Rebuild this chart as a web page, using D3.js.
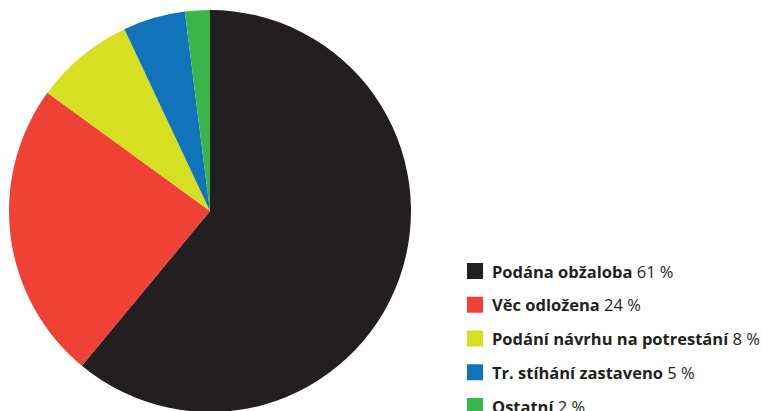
<!DOCTYPE html>
<html>
<head>
<meta charset="utf-8">
<script src="https://cdn.jsdelivr.net/npm/d3@7"></script>
<style>
  html, body { margin: 0; padding: 0; background: #fff; overflow: hidden; }
  svg { display: block; }
  .legend-label { font-family: "Open Sans", "Noto Sans", sans-serif; font-size: 16.5px; fill: #231f20; }
  .legend-label .name { font-weight: 700; }
</style>
</head>
<body>
<svg width="763" height="411"></svg>
<script>
// data
var categories = ["Podána obžaloba", "Věc odložena", "Podání návrhu na potrestání", "Tr. stíhání zastaveno", "Ostatní"];
var values = [61, 24, 8, 5, 2];
var colors = ["#231f20", "#ef4136", "#d7df23", "#1174bb", "#39b54a"];

var svg = d3.select("svg");

var cx = 210, cy = 211, radius = 201;

var data = categories.map(function(c, i) {
    return { name: c, value: values[i], color: colors[i] };
});

var pie = d3.pie()
    .sort(null)
    .value(function(d) { return d.value; });

var arc = d3.arc()
    .innerRadius(0)
    .outerRadius(radius);

var g = svg.append("g")
    .attr("transform", "translate(" + cx + "," + cy + ")");

g.selectAll("path")
    .data(pie(data))
    .enter()
    .append("path")
    .attr("d", arc)
    .attr("fill", function(d) { return d.data.color; });

// legend
var legendX = 467, legendY = 263, rowStep = 33.75;

var rows = svg.selectAll("g.legend-row")
    .data(data)
    .enter()
    .append("g")
    .classed("legend-row", true)
    .attr("transform", function(d, i) {
        return "translate(" + legendX + "," + (legendY + i * rowStep) + ")";
    });

rows.append("rect")
    .attr("width", 16)
    .attr("height", 16)
    .attr("fill", function(d) { return d.color; });

var labels = rows.append("text")
    .classed("legend-label", true)
    .attr("x", 25)
    .attr("y", 14.5);

labels.append("tspan")
    .classed("name", true)
    .text(function(d) { return d.name; });

labels.append("tspan")
    .text(function(d) { return " " + d.value + " %"; });
</script>
</body>
</html>
